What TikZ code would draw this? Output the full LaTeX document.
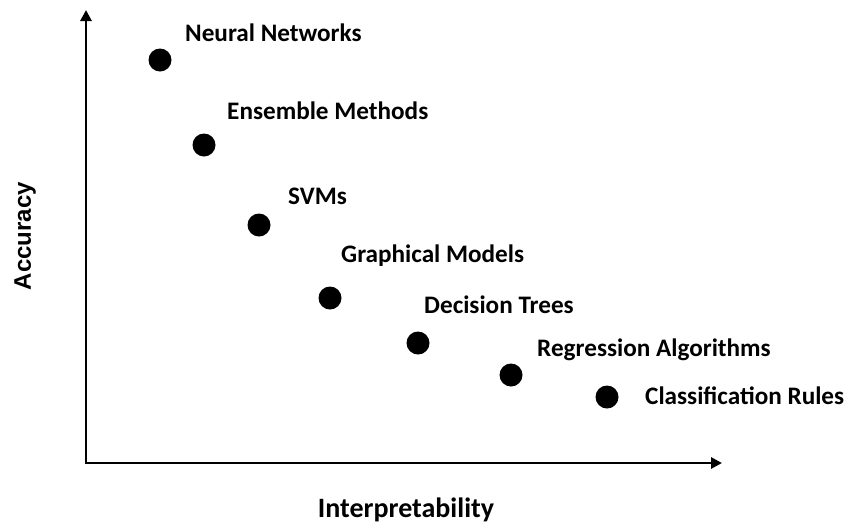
\documentclass[tikz,border=0pt]{standalone}
\usepackage{fontspec}
\setmainfont{Carlito}
\newfontfamily\arialfont{Liberation Sans}
\usetikzlibrary{arrows.meta}
\begin{document}
\begin{tikzpicture}[x=1pt,y=-1pt,
  axis/.style={line width=2.8pt,-{Triangle[length=11pt,width=11pt]}},
  dot/.style={circle,fill=black,inner sep=0pt,minimum size=23pt},
  lbl/.style={anchor=west,font=\fontsize{25.2}{30}\selectfont\bfseries,inner sep=0pt}]
\useasboundingbox (0,0) rectangle (848,523);
\coordinate (ytop) at (86,10);
\coordinate (xend) at (722,463);
\draw[axis] (86,464.4) -- (ytop);
\draw[axis] (84.6,463) -- (xend);
\node[dot] (d1) at (160,60) {};
\node[dot] (d2) at (204,145) {};
\node[dot] (d3) at (259,225) {};
\node[dot] (d4) at (330,298) {};
\node[dot] (d5) at (418,343) {};
\node[dot] (d6) at (511,375) {};
\node[dot] (d7) at (607,397) {};
\node[lbl] (t1) at (185,33) {Neural Networks};
\node[lbl] (t2) at (227,111) {Ensemble Methods};
\node[lbl] (t3) at (288,196) {SVMs};
\node[lbl] (t4) at (341,256) {Graphical Models};
\node[lbl] (t5) at (424,305) {Decision Trees};
\node[lbl] (t6) at (537,350) {Regression Algorithms};
\node[lbl] (t7) at (645,396) {Classification Rules};
\node[font=\fontsize{28}{32}\selectfont\bfseries,inner sep=0pt] (xl) at (406,510) {Interpretability};
\node[font=\arialfont\fontsize{24}{28}\selectfont\bfseries,inner sep=0pt,rotate=90] (yl) at (25,236) {Accuracy};
\end{tikzpicture}
\end{document}
